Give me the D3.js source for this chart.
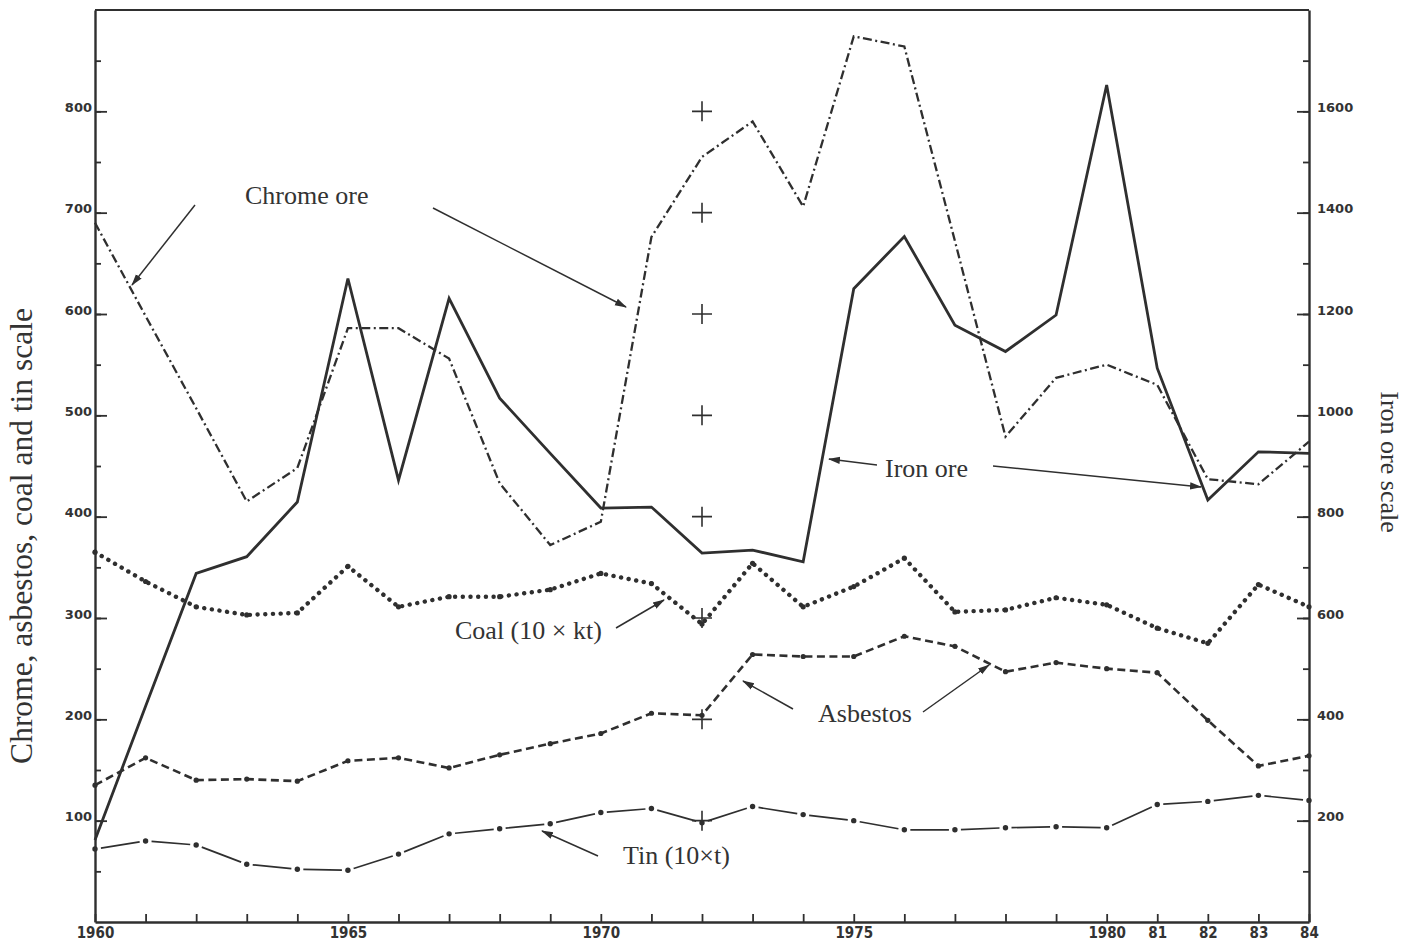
<!DOCTYPE html>
<html><head><meta charset="utf-8">
<script src="https://cdn.jsdelivr.net/npm/d3@7/dist/d3.min.js"></script>
<style>
body{margin:0;background:#fff;}
svg{display:block;}
.ann{font-family:"Liberation Serif","Times New Roman",serif;font-size:26px;fill:#333;}
.tickx text{font-family:"DejaVu Sans Condensed","DejaVu Sans",sans-serif;font-stretch:condensed;font-weight:bold;font-size:15px;fill:#333;}
.ticky text{font-family:"DejaVu Sans",sans-serif;font-weight:bold;font-size:13px;fill:#333;}
</style>
</head><body>
<script>
// ---- data ----
const years = d3.range(1960, 1985);
const ironOre  = [162, 426, 688, 721, 829, 1270, 872, 1231, 1034, 925, 817, 819, 728, 734, 711, 1250, 1353, 1178, 1126, 1198, 1652, 1093, 833, 928, 925];
const chromeOre= [690, 598, 507, 415, 448, 586, 586, 556, 433, 372, 395, 676, 755, 790, 706, 874, 864, 672, 479, 537, 550, 530, 437, 432, 474];
const coal     = [365, 336, 311, 303, 305, 351, 311, 321, 321, 328, 344, 334, 294, 354, 311, 331, 359, 306, 308, 320, 313, 290, 275, 333, 311];
const asbestos = [135, 162, 140, 141, 139, 159, 162, 152, 165, 176, 186, 206, 204, 264, 262, 262, 282, 272, 247, 256, 250, 246, 199, 154, 164];
const tin      = [72, 80, 76, 57, 52, 51, 67, 87, 92, 97, 108, 112, 98, 114, 106, 100, 91, 91, 93, 94, 93, 116, 119, 125, 120];
const xLabels = {1960:"1960",1965:"1965",1970:"1970",1975:"1975",1980:"1980",1981:"81",1982:"82",1983:"83",1984:"84"};
const leftTicks = [100,200,300,400,500,600,700,800];
const rightTicks = [200,400,600,800,1000,1200,1400,1600];
const plusValues = [100,200,300,400,500,600,700,800];
const plusYear = 1972;

const W = 1415, H = 943, INK = "#2f2f2f";
const svg = d3.select("body").append("svg").attr("width", W).attr("height", H);

const x = d3.scaleLinear().domain([1960, 1984]).range([95, 1309]);
const yL = d3.scaleLinear().domain([0, 900]).range([922, 10]);
const yR = d3.scaleLinear().domain([0, 1800]).range([922, 10]);

// arrow marker
svg.append("defs").append("marker").attr("id","arr").attr("markerUnits","userSpaceOnUse")
  .attr("viewBox","0 -5 12 10").attr("refX",11).attr("refY",0).attr("markerWidth",12).attr("markerHeight",10)
  .attr("orient","auto").append("path").attr("d","M0,-3.6L12,0L0,3.6Z").attr("fill",INK);

// top frame line
svg.append("line").attr("x1", x(1960)).attr("x2", x(1984)).attr("y1", yL(900)).attr("y2", yL(900))
  .attr("stroke", INK).attr("stroke-width", 2.2);

// left axis: minor and major
const gL = svg.append("g").attr("transform", `translate(${x(1960)},0)`);
gL.append("g").call(d3.axisLeft(yL).tickValues(d3.range(50, 900, 50)).tickSizeInner(-6).tickSizeOuter(0).tickFormat(""))
  .call(g => g.select(".domain").attr("stroke", INK).attr("stroke-width", 2.4))
  .call(g => g.selectAll(".tick line").attr("stroke", INK).attr("stroke-width", 1.8));
gL.append("g").attr("class","ticky").call(d3.axisLeft(yL).tickValues(leftTicks).tickSizeInner(-12).tickSizeOuter(0).tickPadding(3).tickFormat(d3.format("d")))
  .call(g => g.select(".domain").remove())
  .call(g => g.selectAll(".tick line").attr("stroke", INK).attr("stroke-width", 1.8))
  .call(g => g.selectAll(".tick text").attr("y", -4));

// right axis
const gR = svg.append("g").attr("transform", `translate(${x(1984)},0)`);
gR.append("g").call(d3.axisRight(yR).tickValues(d3.range(100, 1800, 100)).tickSizeInner(-6).tickSizeOuter(0).tickFormat(""))
  .call(g => g.select(".domain").attr("stroke", INK).attr("stroke-width", 2.4))
  .call(g => g.selectAll(".tick line").attr("stroke", INK).attr("stroke-width", 1.8));
gR.append("g").attr("class","ticky").call(d3.axisRight(yR).tickValues(rightTicks).tickSizeInner(-12).tickSizeOuter(0).tickPadding(8).tickFormat(d3.format("d")))
  .call(g => g.select(".domain").remove())
  .call(g => g.selectAll(".tick line").attr("stroke", INK).attr("stroke-width", 1.8))
  .call(g => g.selectAll(".tick text").attr("y", -4));

// bottom axis
svg.append("g").attr("class","tickx").attr("transform", `translate(0,${yL(0)})`)
  .call(d3.axisBottom(x).tickValues(years).tickSizeInner(-8).tickSizeOuter(0).tickPadding(5)
        .tickFormat(d => xLabels[d] || ""))
  .call(g => g.select(".domain").attr("stroke", INK).attr("stroke-width", 2.4))
  .call(g => g.selectAll(".tick line").attr("stroke", INK).attr("stroke-width", 1.8));

// plus marks at 1972
svg.append("g").selectAll("path").data(plusValues).join("path")
  .attr("d", v => `M${x(plusYear)-10},${yL(v)}H${x(plusYear)+10}M${x(plusYear)},${yL(v)-10}V${yL(v)+10}`)
  .attr("stroke", INK).attr("stroke-width", 1.6).attr("fill","none");

const lineL = d3.line().x((d,i) => x(years[i])).y(d => yL(d));
const lineR = d3.line().x((d,i) => x(years[i])).y(d => yR(d));

// chrome ore - dash dot
svg.append("path").attr("d", lineL(chromeOre)).attr("fill","none").attr("stroke", INK)
  .attr("stroke-width", 2.3).attr("stroke-dasharray","9 3.5 2 3.5");

// iron ore - solid (right scale)
svg.append("path").attr("d", lineR(ironOre)).attr("fill","none").attr("stroke", INK)
  .attr("stroke-width", 2.8).attr("stroke-linejoin","miter");

// coal - heavy dots
svg.append("path").attr("d", lineL(coal)).attr("fill","none").attr("stroke", INK)
  .attr("stroke-width", 4.4).attr("stroke-linecap","round").attr("stroke-dasharray","0.1 7.6");
svg.append("g").selectAll("circle").data(coal).join("circle")
  .attr("cx",(d,i)=>x(years[i])).attr("cy",d=>yL(d)).attr("r",2.6).attr("fill",INK);

// asbestos - dashed with points
svg.append("path").attr("d", lineL(asbestos)).attr("fill","none").attr("stroke", INK)
  .attr("stroke-width", 2.6).attr("stroke-dasharray","8 4.5");
svg.append("g").selectAll("circle").data(asbestos).join("circle")
  .attr("cx",(d,i)=>x(years[i])).attr("cy",d=>yL(d)).attr("r",2.6).attr("fill",INK);

// tin - long dashes broken at dotted points
const tinPts = tin.map((d,i) => [x(years[i]), yL(d)]);
const segs = d3.pairs(tinPts).map(([a,b]) => {
  const dx=b[0]-a[0], dy=b[1]-a[1], L=Math.hypot(dx,dy), g=6;
  return [[a[0]+dx*g/L, a[1]+dy*g/L],[b[0]-dx*g/L, b[1]-dy*g/L]];
});
svg.append("g").selectAll("line").data(segs).join("line")
  .attr("x1",s=>s[0][0]).attr("y1",s=>s[0][1]).attr("x2",s=>s[1][0]).attr("y2",s=>s[1][1])
  .attr("stroke",INK).attr("stroke-width",1.7);
svg.append("g").selectAll("circle").data(tinPts).join("circle")
  .attr("cx",p=>p[0]).attr("cy",p=>p[1]).attr("r",2.7).attr("fill",INK);

// annotations
const ann = [
  {t:"Chrome ore", x:245, y:204},
  {t:"Iron ore", x:885, y:477},
  {t:"Coal (10 \u00d7 kt)", x:455, y:639},
  {t:"Asbestos", x:818, y:722},
  {t:"Tin (10\u00d7t)", x:623, y:864}
];
svg.append("g").selectAll("text").data(ann).join("text").attr("class","ann")
  .attr("x",d=>d.x).attr("y",d=>d.y).text(d=>d.t);

const arrows = [
  [195,205,132,285],[433,208,626,307],
  [877,465,829,459],[993,466,1201,487],
  [616,628,664,600],
  [793,709,743,681],[923,712,989,665],
  [598,856,542,831]
];
svg.append("g").selectAll("line").data(arrows).join("line")
  .attr("x1",d=>d[0]).attr("y1",d=>d[1]).attr("x2",d=>d[2]).attr("y2",d=>d[3])
  .attr("stroke",INK).attr("stroke-width",1.5).attr("marker-end","url(#arr)");

// axis titles
svg.append("text").attr("class","ann").attr("transform","translate(32,536) rotate(-90)")
  .attr("text-anchor","middle").style("font-size","31.5px").text("Chrome, asbestos, coal and tin scale");
svg.append("text").attr("class","ann").attr("transform","translate(1381,462) rotate(90)")
  .attr("text-anchor","middle").style("font-size","26px").text("Iron ore scale");
</script>
</body></html>
